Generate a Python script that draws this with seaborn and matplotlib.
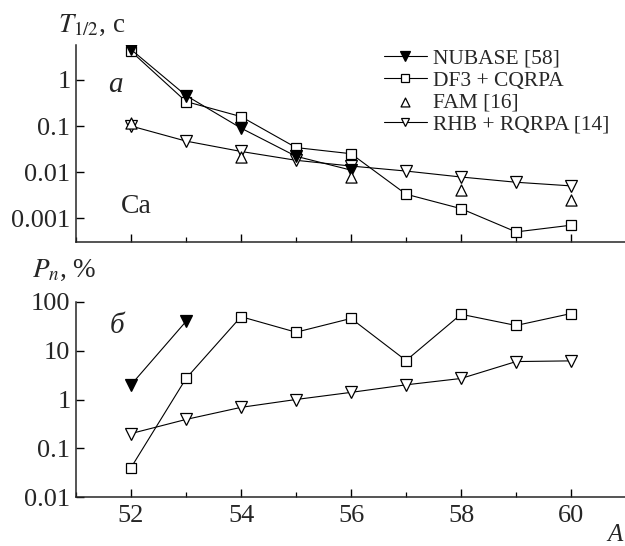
import numpy as np
import pandas as pd
import matplotlib
matplotlib.use("Agg")
import matplotlib.pyplot as plt
from matplotlib.ticker import FixedLocator, FixedFormatter, MultipleLocator, LogLocator, NullFormatter
import seaborn as sns

# Mass numbers of the Ca isotopes
A_all = [52, 53, 54, 55, 56, 57, 58, 59, 60]
A_nubase_t = [52, 53, 54, 55, 56]
A_fam = [52, 54, 56, 58, 60]
A_nubase_p = [52, 53]

# Half-lives T1/2, s
t_nubase = [4.6, 0.46, 0.09, 0.022, 0.011]
t_df3 = [4.2, 0.34, 0.16, 0.034, 0.025, 0.0033, 0.0016, 0.0005, 0.0007]
t_fam = [0.115, 0.021, 0.0078, 0.0041, 0.0025]
t_rhb = [0.10, 0.047, 0.028, 0.018, 0.0135, 0.0105, 0.0078, 0.006, 0.005]

# Delayed-neutron emission probabilities Pn, %
p_nubase = [2.0, 40.0]
p_df3 = [0.04, 2.7, 50, 24, 46, 6.3, 56, 33, 58]
p_rhb = [0.2, 0.39, 0.69, 1.0, 1.4, 2.0, 2.7, 6.0, 6.2]

labels = ["NUBASE [58]", "DF3 + CQRPA", "FAM [16]", "RHB + RQRPA [14]"]
top_ticks = [0.001, 0.01, 0.1, 1]
top_ticklabels = ["0.001", "0.01", "0.1", "1"]
bot_ticks = [0.01, 0.1, 1, 10, 100]
bot_ticklabels = ["0.01", "0.1", "1", "10", "100"]
x_ticks = [52, 54, 56, 58, 60]

sns.set_style("ticks")
plt.rcParams["font.family"] = ["Liberation Serif", "DejaVu Serif"]
plt.rcParams["mathtext.fontset"] = "stix"
plt.rcParams["axes.linewidth"] = 1.1

fig = plt.figure(figsize=(6.25, 5.46), dpi=100)
ax1 = fig.add_axes([76 / 625, 1 - 242 / 546, 549 / 625, 197 / 546])
ax2 = fig.add_axes([76 / 625, 1 - 497 / 546, 549 / 625, 195 / 546])

lw = 0.8
line_kw = dict(color="black", linewidth=lw, markeredgecolor="black", markeredgewidth=0.9)

def draw(ax, nub_x, nub_y, df3_y, rhb_y, fam_x=None, fam_y=None):
    sns.lineplot(x=A_all, y=rhb_y, ax=ax, marker="v", markersize=8,
                 markerfacecolor="white", label=labels[3], **line_kw)
    sns.lineplot(x=A_all, y=df3_y, ax=ax, marker="s", markersize=6.5,
                 markerfacecolor="white", label=labels[1], **line_kw)
    if fam_x is not None:
        sns.scatterplot(x=fam_x, y=fam_y, ax=ax, marker="^", s=64,
                        facecolor="white", edgecolor="black", linewidth=0.9,
                        label=labels[2], zorder=3)
    sns.lineplot(x=nub_x, y=nub_y, ax=ax, marker="v", markersize=9,
                 markerfacecolor="black", label=labels[0], **line_kw)

draw(ax1, A_nubase_t, t_nubase, t_df3, t_rhb, A_fam, t_fam)
draw(ax2, A_nubase_p, p_nubase, p_df3, p_rhb)

for ax in (ax1, ax2):
    ax.set_yscale("log")
    ax.set_xlim(51, 60.98)
    ax.xaxis.set_major_locator(FixedLocator(x_ticks))
    ax.xaxis.set_minor_locator(MultipleLocator(1))
    ax.yaxis.set_minor_locator(LogLocator(base=10, subs=np.arange(2, 10)))
    ax.yaxis.set_minor_formatter(NullFormatter())
    ax.tick_params(which="major", direction="in", length=6, width=1.0,
                   labelsize=19, color="black", pad=4)
    ax.tick_params(which="minor", direction="in", length=3.5, width=0.9, color="black")
    sns.despine(ax=ax)
    ax.set_xlabel("")
    ax.set_ylabel("")

ax1.set_ylim(10 ** -3.52, 10 ** 0.76)
ax1.yaxis.set_major_locator(FixedLocator(top_ticks))
ax1.yaxis.set_major_formatter(FixedFormatter(top_ticklabels))
ax1.tick_params(axis="x", labelbottom=False)

ax2.set_ylim(0.01, 100)
ax2.yaxis.set_major_locator(FixedLocator(bot_ticks))
ax2.yaxis.set_major_formatter(FixedFormatter(bot_ticklabels))
ax2.tick_params(axis="x", pad=6)

# Legend in the upper panel, ordered as in the publication
handles, labs = ax1.get_legend_handles_labels()
order = [labs.index(l) for l in labels]
ax1.legend([handles[i] for i in order], labels, loc="upper left",
           bbox_to_anchor=(373 / 625, 1 - 38 / 546), bbox_transform=fig.transFigure,
           frameon=False, fontsize=15.5, handlelength=2.0, handletextpad=0.3,
           labelspacing=0.08, borderpad=0, markerscale=0.8)
if ax2.get_legend():
    ax2.get_legend().remove()

# Axis titles and panel annotations
fig.text(58 / 625, 1 - 32 / 546, r"$T_{1/2}$, с", fontsize=19.5, va="baseline", ha="left")
fig.text(32 / 625, 1 - 277 / 546, r"$P_n$, %", fontsize=19.5, va="baseline", ha="left")
fig.text(108 / 625, 1 - 92 / 546, "а", fontsize=21, style="italic", va="baseline", ha="left")
fig.text(121 / 625, 1 - 213 / 546, "Ca", fontsize=20, va="baseline", ha="left")
fig.text(110 / 625, 1 - 333 / 546, "б", fontsize=21, style="italic", va="baseline", ha="left")
fig.text(607 / 625, 1 - 541 / 546, "A", fontsize=18, style="italic", va="baseline", ha="left")

fig.savefig("out.png", dpi=100)
